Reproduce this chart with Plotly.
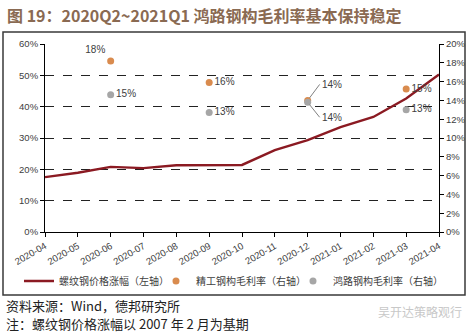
import plotly.graph_objects as go

months = ["2020-04", "2020-05", "2020-06", "2020-07", "2020-08", "2020-09", "2020-10",
          "2020-11", "2020-12", "2021-01", "2021-02", "2021-03", "2021-04"]
rebar_rise = [0.175, 0.189, 0.208, 0.204, 0.213, 0.214, 0.214,
              0.261, 0.293, 0.335, 0.367, 0.426, 0.503]

quarters = ["2020-06", "2020-09", "2020-12", "2021-03"]
jinggong_margin = [0.182, 0.159, 0.140, 0.152]
honglu_margin = [0.146, 0.127, 0.138, 0.130]

left_ticks = [0, 0.1, 0.2, 0.3, 0.4, 0.5, 0.6]
right_ticks = [0, 0.02, 0.04, 0.06, 0.08, 0.10, 0.12, 0.14, 0.16, 0.18, 0.20]

FONT = "Liberation Sans, Noto Sans CJK SC, sans-serif"
CJK = "Noto Sans CJK SC, sans-serif"
LINE_C = "#8b1a22"
ORANGE = "#d98b4e"
GRAY = "#a6a6a6"
TXT = "#404040"

fig = go.Figure()
fig.add_trace(go.Scatter(
    x=months, y=rebar_rise, mode="lines", name="螺纹钢价格涨幅（左轴）",
    line=dict(color=LINE_C, width=2.4), yaxis="y", legendwidth=92))

# Text position per point; the 2020-12 values are labelled with leader lines below
jg_pos = ["top left", "middle right", "middle right", "middle right"]
hl_pos = ["middle right", "middle right", "middle right", "middle right"]
jg_text = [f"{v:.0%}" if q != "2020-12" else "" for q, v in zip(quarters, jinggong_margin)]
hl_text = [f"{v:.0%}" if q != "2020-12" else "" for q, v in zip(quarters, honglu_margin)]

fig.add_trace(go.Scatter(
    x=quarters, y=jinggong_margin, mode="markers+text", name="精工钢构毛利率（右轴）",
    marker=dict(color=ORANGE, size=7), text=jg_text, textposition=jg_pos,
    textfont=dict(size=10, color=TXT, family=FONT), yaxis="y2", legendwidth=92))
fig.add_trace(go.Scatter(
    x=quarters, y=honglu_margin, mode="markers+text", name="鸿路钢构毛利率（右轴）",
    marker=dict(color=GRAY, size=7), text=hl_text, textposition=hl_pos,
    textfont=dict(size=10, color=TXT, family=FONT), yaxis="y2", legendwidth=116))

# Leader-line labels for the overlapping 2020-12 points
idx = quarters.index("2020-12")
for val, ay in ((jinggong_margin[idx], -16), (honglu_margin[idx], 15)):
    fig.add_annotation(
        x=quarters[idx], y=val, xref="x", yref="y2", text=f"{val:.0%}",
        showarrow=True, arrowhead=0, arrowwidth=1, arrowcolor="#808080",
        ax=12, ay=ay, xanchor="left", standoff=3,
        font=dict(size=10, color=TXT, family=FONT))

fig.update_layout(
    width=471, height=334,
    margin=dict(l=45, r=32, t=44, b=102, autoexpand=False),
    paper_bgcolor="white", plot_bgcolor="white",
    showlegend=True,
    legend=dict(orientation="h", x=-0.066, xanchor="left",
                y=(232 - 281) / 188, yanchor="middle",
                font=dict(size=10, color=TXT, family=CJK), itemwidth=30,
                entrywidthmode="pixels",
                tracegroupgap=0, bgcolor="rgba(0,0,0,0)"),
    xaxis=dict(type="category", categoryarray=months, range=[0, 12],
               tickangle=-30, tickfont=dict(size=9.5, color=TXT, family=FONT),
               showline=True, linecolor="black", linewidth=1,
               ticks="outside", ticklen=4, tickcolor="black", showgrid=False),
    yaxis=dict(range=[0, 0.6], tickvals=left_ticks, tickformat=".0%",
               tickfont=dict(size=9.5, color=TXT, family=FONT),
               showline=True, linecolor="black", linewidth=1,
               ticks="outside", ticklen=4, tickcolor="black",
               showgrid=True, gridcolor="#222222", griddash="dash", gridwidth=1,
               zeroline=False),
    yaxis2=dict(range=[0, 0.2], tickvals=right_ticks, tickformat=".0%",
                overlaying="y", side="right",
                tickfont=dict(size=9.5, color=TXT, family=FONT),
                showline=True, linecolor="black", linewidth=1,
                ticks="outside", ticklen=4, tickcolor="black",
                showgrid=False, zeroline=False),
)

# Frame around the chart panel
fig.add_shape(type="rect", xref="paper", yref="paper",
              x0=-42 / 394, x1=(465 - 45) / 394,
              y0=(232 - 295) / 188, y1=(232 - 32) / 188,
              line=dict(color="#3a3a3a", width=1.5), layer="below")

fig.add_annotation(xref="paper", yref="paper", x=-40 / 394, y=(232 - 15) / 188,
                   xanchor="left", yanchor="middle", showarrow=False,
                   text="<b>图 19：2020Q2~2021Q1 鸿路钢构毛利率基本保持稳定</b>",
                   font=dict(size=16, color="#8a6a52", family=CJK))
fig.add_annotation(xref="paper", yref="paper", x=-41 / 394, y=(232 - 305) / 188,
                   xanchor="left", yanchor="middle", showarrow=False,
                   text="资料来源：Wind，德邦研究所",
                   font=dict(size=13, color="#222222", family=CJK))
fig.add_annotation(xref="paper", yref="paper", x=-41 / 394, y=(232 - 323) / 188,
                   xanchor="left", yanchor="middle", showarrow=False,
                   text="注：螺纹钢价格涨幅以 2007 年 2 月为基期",
                   font=dict(size=13, color="#222222", family=CJK))
fig.add_annotation(xref="paper", yref="paper", x=(376 - 45) / 394, y=(232 - 311) / 188,
                   xanchor="left", yanchor="middle", showarrow=False,
                   text="吴开达策略观行",
                   font=dict(size=12, color="#c8c8c8", family=CJK))

fig.write_html("out.html")
